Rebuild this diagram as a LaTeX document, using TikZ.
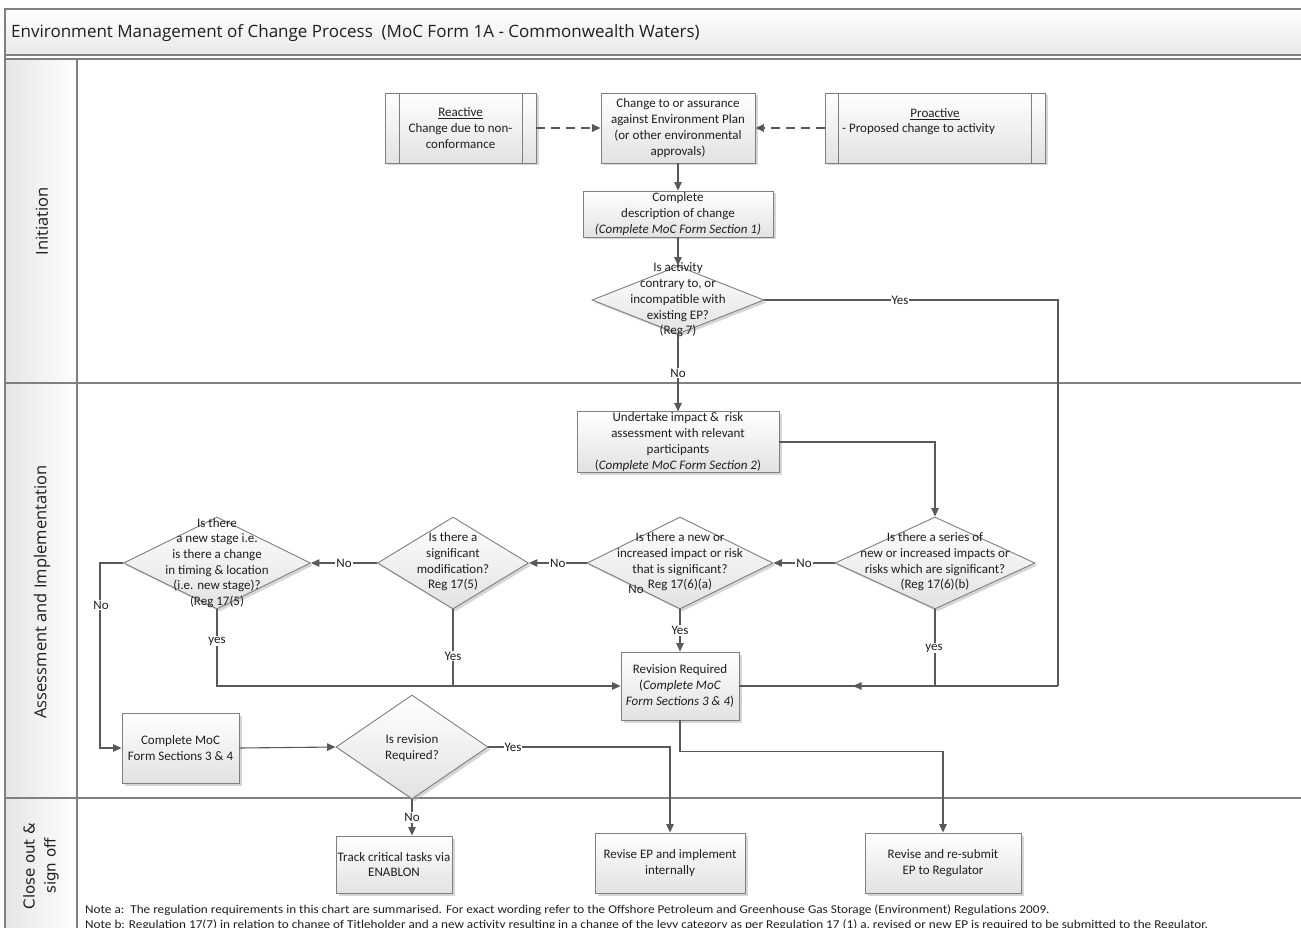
\documentclass[tikz,border=0pt]{standalone}
\usepackage{fontspec}
\setmainfont{Carlito}
\newfontfamily\titlefont{Open Sans}
\newfontfamily\lanefont{DejaVu Sans}
\usetikzlibrary{arrows.meta,shapes.geometric,shadows,calc}
\definecolor{linec}{HTML}{595959}
\definecolor{framec}{HTML}{808080}
\definecolor{boxb}{HTML}{E2E2E2}
\definecolor{boxd}{HTML}{7F7F7F}
\definecolor{txt}{HTML}{1F1F1F}
\newcommand\boxfnt{\fontsize{13}{15.7}\selectfont}
\newcommand\notefnt{\fontsize{12}{14}\selectfont}
\newcommand\hdfnt{\titlefont\fontsize{17}{20}\selectfont}
\newcommand\lnfnt{\titlefont\fontsize{16.5}{20}\selectfont}
\begin{document}
\begin{tikzpicture}[x=1pt,y=-1pt,
  shad/.style={drop shadow={shadow xshift=2.5pt,shadow yshift=-2.5pt,fill=black!35,opacity=0.45}},
  box/.style={draw=boxd, line width=0.9pt, top color=white, bottom color=boxb, shad, align=center, font=\boxfnt, text=txt, inner sep=1pt},
  dia/.style={diamond, draw=boxd, line width=0.9pt, top color=white, bottom color=boxb, shad, inner sep=0pt},
  dtext/.style={align=center, font=\boxfnt, text=txt, inner sep=0pt},
  conn/.style={draw=linec, line width=1.1pt},
  arr/.style={-{Triangle[length=8.5pt,width=7.5pt]}},
  dsh/.style={dash pattern=on 9pt off 6pt, line width=1.5pt},
  lbl/.style={fill=white, inner sep=1pt, font=\boxfnt, text=txt},
  frame/.style={draw=framec, line width=1.3pt},
  note/.style={anchor=base west, font=\notefnt, text=txt, inner sep=0pt, xscale=1.1},
]
\useasboundingbox (0,0) rectangle (1301,928);
\fill[white] (0,0) rectangle (1301,928);
% title band and lane column
\shade[top color=white, bottom color=black!9] (5,9) rectangle (1301,55);
\shade[left color=black!10, right color=white] (5,59) rectangle (77,928);
\draw[frame] (1301,9) -- (5,9) -- (5,928);
\draw[frame] (5,55) -- (1301,55);
\draw[frame] (5,59) -- (1301,59);
\draw[frame] (77,59) -- (77,928);
\draw[frame] (5,383) -- (1301,383);
\draw[frame] (5,798) -- (1301,798);
\node[anchor=west, font=\hdfnt, text=txt, inner sep=0pt] (title) at (11,33) {Environment Management of Change Process\ \ (MoC Form 1A - Commonwealth Waters)};
\node[rotate=90, font=\lnfnt, text=txt] (lane1) at (42,221) {Initiation};
\node[rotate=90, font=\lnfnt, text=txt] (lane2) at (42,592) {Assessment and Implementation};
\node[rotate=90, align=center, font=\lanefont\fontsize{15}{21}\selectfont, text=txt] (lane3) at (41,866) {Close out \&\\sign off};

% initiation
\node[box, minimum width=151pt, minimum height=70pt] (reac) at (460.5,128) {\underline{Reactive}\\Change due to non-\\conformance};
\draw[draw=boxd, line width=0.9pt] ([xshift=15pt]reac.north west) -- ([xshift=15pt]reac.south west);
\draw[draw=boxd, line width=0.9pt] ([xshift=-14pt]reac.north east) -- ([xshift=-14pt]reac.south east);
\node[box, minimum width=154pt, minimum height=70pt] (chg) at (678,128) {Change to or assurance\\against Environment Plan\\(or other environmental\\approvals)};
\node[box, minimum width=220pt, minimum height=70pt] (pro) at (935,128) {};
\draw[draw=boxd, line width=0.9pt] ([xshift=14pt]pro.north west) -- ([xshift=14pt]pro.south west);
\draw[draw=boxd, line width=0.9pt] ([xshift=-14pt]pro.north east) -- ([xshift=-14pt]pro.south east);
\node[dtext, anchor=base] (proT) at (935,117.5) {\underline{Proactive}};
\node[dtext, anchor=base west] (proS) at (842,132.5) {- Proposed change to activity};
\node[box, minimum width=190pt, minimum height=46pt] (desc) at (678,214) {Complete\\description of change\\\textit{(Complete MoC Form Section 1)}};
\node[dia, minimum width=172pt, minimum height=68pt] (d1) at (678,300) {};
\node[dtext] (d1t) at (678,300) {Is activity\\contrary to, or\\incompatible with\\existing EP?\\(Reg 7)};

% assessment
\node[box, minimum width=202pt, minimum height=60pt] (und) at (678,442) {Undertake impact \&\ \ risk\\assessment with relevant\\participants\\(\textit{Complete MoC Form Section 2})};
\node[dia, minimum width=200pt, minimum height=92pt] (d2) at (935,563) {};
\node[dtext] (d2t) at (935,562) {Is there a series of\\new or increased impacts or\\risks which are significant?\\(Reg 17(6)(b)};
\node[dia, minimum width=186pt, minimum height=92pt] (d3) at (680,563) {};
\node[dtext] (d3t) at (680,562) {Is there a new or\\increased impact or risk\\that is significant?\\Reg 17(6)(a)};
\node[dtext] (d3n) at (636,589) {No};
\node[dia, minimum width=151pt, minimum height=92pt] (d4) at (453,563) {};
\node[dtext] (d4t) at (453,562) {Is there a\\significant\\modification?\\Reg 17(5)};
\node[dia, minimum width=187pt, minimum height=92pt] (d5) at (217,563) {};
\node[dtext] (d5t) at (217,563) {Is there\\a new stage i.e.\\is there a change\\in timing \& location\\(i.e. new stage)?\\(Reg 17(5)};
\node[box, minimum width=118pt, minimum height=68pt] (rev) at (680,686) {Revision Required\\(\textit{Complete MoC}\\\textit{Form Sections 3 \& 4})};
\node[box, minimum width=117pt, minimum height=70pt] (cmoc) at (180.5,748) {Complete MoC\\Form Sections 3 \& 4};
\node[dia, minimum width=152pt, minimum height=104pt] (d6) at (412,747) {};
\node[dtext] (d6t) at (412,748) {Is revision\\Required?};

% close out
\node[box, minimum width=116pt, minimum height=57pt] (track) at (394,864.5) {Track critical tasks via\\ENABLON};
\node[box, minimum width=150pt, minimum height=60pt] (revep) at (670,863) {Revise EP and implement\\internally};
\node[box, minimum width=156pt, minimum height=60pt] (resub) at (943,863) {Revise and re-submit\\EP to Regulator};

\node[note] (notea) at (85,913.5) {Note a:\ \ The regulation requirements in this chart are summarised. For exact wording refer to the Offshore Petroleum and Greenhouse Gas Storage (Environment) Regulations 2009.};
\node[note] (noteb) at (85,928) {Note b: Regulation 17(7) in relation to change of Titleholder and a new activity resulting in a change of the levy category as per Regulation 17 (1) a, revised or new EP is required to be submitted to the Regulator.};

% connectors
\coordinate (yr) at (1058,686);
\coordinate (yj) at (853,686);
\coordinate (nl) at (100,563);
\draw[conn,dsh,arr] (reac.east) -- (chg.west);
\draw[conn,dsh,arr] (pro.west) -- (chg.east);
\draw[conn,arr] (chg.south) -- (desc.north);
\draw[conn,arr] (desc.south) -- (d1.north);
\draw[conn,arr] (d1.south) -- node[lbl] {No} (und.north);
\draw[conn] (d1.east) -| (yr);
\draw[conn,arr] (yr) -- (yj);
\node[lbl] (yesl) at (900,300) {Yes};
\draw[conn,arr] (und.east) -| (d2.north);
\draw[conn,arr] (d2.west) -- node[lbl] {No} (d3.east);
\draw[conn,arr] (d3.west) -- node[lbl] {No} (d4.east);
\draw[conn,arr] (d4.west) -- node[lbl] {No} (d5.east);
\draw[conn,arr] (d3.south) -- node[lbl] {Yes} (rev.north);
\draw[conn] (d2.south) |- (rev.east);
\node[lbl] (yes2) at (934,648) {yes};
\draw[conn,arr] (d5.south) |- (rev.west);
\node[lbl] (yes5) at (217,641) {yes};
\draw[conn] (d4.south) -- (d4.south |- rev.west);
\node[lbl] (yes4) at (453,656) {Yes};
\draw[conn,arr] (d5.west) -- (nl) |- (cmoc.west);
\node[lbl] (no5) at (101,605) {No};
\draw[conn,arr] (cmoc.east) -- (d6.west);
\draw[conn,arr] (d6.east) -| (revep.north);
\node[lbl] (yes6) at (513,747) {Yes};
\draw[conn,arr] (d6.south) -- node[lbl] {No} (d6.south |- track.north);
\draw[conn,arr] (rev.south) -- ++(0,31) -| (resub.north);
\end{tikzpicture}
\end{document}
